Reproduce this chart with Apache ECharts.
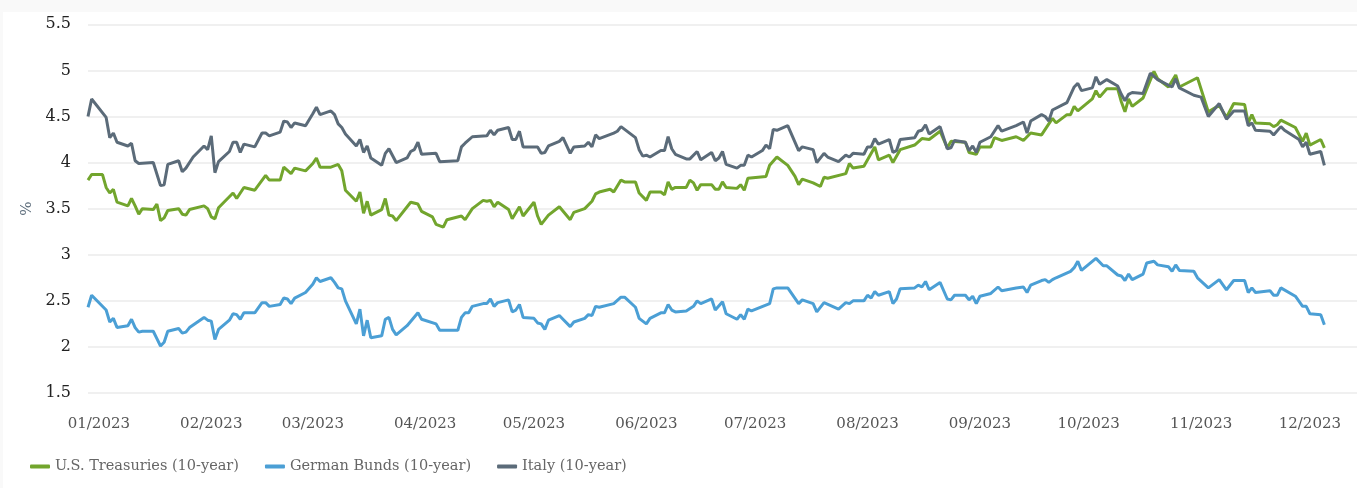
<!DOCTYPE html>
<html>
<head>
<meta charset="utf-8">
<script src="https://cdn.jsdelivr.net/npm/echarts@6/dist/echarts.min.js"></script>
<style>
html,body{margin:0;padding:0;background:#f9f9f9;}
#chart{position:absolute;left:3px;top:12px;width:1354px;height:476px;background:#fff;}
</style>
</head>
<body>
<div id="chart"></div>
<script>
// ---- Data ----
const seriesNames = ['U.S. Treasuries (10-year)', 'German Bunds (10-year)', 'Italy (10-year)'];
const yTicks = [1.5, 2, 2.5, 3, 3.5, 4, 4.5, 5, 5.5];

const usDates = ['2022-12-29','2022-12-30','2023-01-02','2023-01-03','2023-01-04','2023-01-05','2023-01-06','2023-01-09','2023-01-10','2023-01-11','2023-01-12','2023-01-13','2023-01-16','2023-01-17','2023-01-18','2023-01-19','2023-01-20','2023-01-23','2023-01-24','2023-01-25','2023-01-26','2023-01-30','2023-01-31','2023-02-01','2023-02-02','2023-02-03','2023-02-07','2023-02-08','2023-02-10','2023-02-13','2023-02-16','2023-02-17','2023-02-20','2023-02-21','2023-02-23','2023-02-24','2023-02-27','2023-03-01','2023-03-02','2023-03-03','2023-03-06','2023-03-08','2023-03-09','2023-03-10','2023-03-13','2023-03-14','2023-03-15','2023-03-16','2023-03-17','2023-03-20','2023-03-21','2023-03-22','2023-03-23','2023-03-24','2023-03-28','2023-03-30','2023-03-31','2023-04-03','2023-04-04','2023-04-06','2023-04-07','2023-04-11','2023-04-12','2023-04-14','2023-04-17','2023-04-18','2023-04-19','2023-04-20','2023-04-21','2023-04-24','2023-04-25','2023-04-27','2023-04-28','2023-05-01','2023-05-02','2023-05-03','2023-05-05','2023-05-08','2023-05-11','2023-05-12','2023-05-15','2023-05-17','2023-05-18','2023-05-19','2023-05-22','2023-05-23','2023-05-25','2023-05-26','2023-05-29','2023-05-30','2023-06-01','2023-06-02','2023-06-05','2023-06-06','2023-06-07','2023-06-08','2023-06-09','2023-06-12','2023-06-13','2023-06-14','2023-06-15','2023-06-16','2023-06-19','2023-06-20','2023-06-21','2023-06-22','2023-06-23','2023-06-26','2023-06-27','2023-06-28','2023-06-29','2023-07-04','2023-07-05','2023-07-07','2023-07-10','2023-07-12','2023-07-13','2023-07-14','2023-07-17','2023-07-19','2023-07-20','2023-07-21','2023-07-26','2023-07-27','2023-07-28','2023-07-31','2023-08-03','2023-08-04','2023-08-07','2023-08-08','2023-08-10','2023-08-14','2023-08-16','2023-08-18','2023-08-21','2023-08-23','2023-08-24','2023-08-28','2023-08-29','2023-08-31','2023-09-01','2023-09-04','2023-09-05','2023-09-07','2023-09-11','2023-09-13','2023-09-15','2023-09-18','2023-09-21','2023-09-22','2023-09-25','2023-09-26','2023-09-27','2023-09-28','2023-10-02','2023-10-03','2023-10-04','2023-10-06','2023-10-09','2023-10-10','2023-10-11','2023-10-12','2023-10-13','2023-10-16','2023-10-19','2023-10-20','2023-10-23','2023-10-25','2023-10-26','2023-10-31','2023-11-03','2023-11-06','2023-11-08','2023-11-10','2023-11-13','2023-11-14','2023-11-15','2023-11-16','2023-11-20','2023-11-21','2023-11-22','2023-11-23','2023-11-27','2023-11-29','2023-11-30','2023-12-01','2023-12-04','2023-12-05'];
const usValues = [3.81,3.87,3.87,3.73,3.67,3.71,3.57,3.53,3.61,3.53,3.44,3.50,3.49,3.55,3.37,3.40,3.48,3.50,3.44,3.43,3.49,3.53,3.50,3.41,3.39,3.51,3.67,3.61,3.73,3.70,3.86,3.81,3.81,3.95,3.88,3.94,3.91,3.99,4.05,3.95,3.95,3.98,3.91,3.70,3.58,3.68,3.45,3.58,3.43,3.49,3.61,3.43,3.42,3.37,3.57,3.55,3.47,3.41,3.33,3.30,3.38,3.42,3.38,3.50,3.59,3.58,3.59,3.52,3.57,3.49,3.39,3.52,3.42,3.57,3.42,3.33,3.43,3.52,3.38,3.46,3.50,3.58,3.66,3.68,3.71,3.68,3.81,3.79,3.79,3.67,3.59,3.68,3.68,3.65,3.79,3.71,3.73,3.73,3.81,3.78,3.70,3.76,3.76,3.71,3.71,3.79,3.73,3.72,3.76,3.70,3.83,3.85,3.97,4.06,3.97,3.85,3.76,3.82,3.78,3.74,3.84,3.83,3.88,3.99,3.94,3.96,4.17,4.03,4.08,4.00,4.14,4.19,4.26,4.25,4.34,4.16,4.23,4.22,4.11,4.09,4.17,4.17,4.27,4.24,4.28,4.24,4.32,4.30,4.48,4.43,4.52,4.52,4.61,4.56,4.69,4.78,4.71,4.80,4.80,4.66,4.55,4.69,4.61,4.70,4.99,4.91,4.82,4.95,4.82,4.92,4.55,4.62,4.49,4.64,4.63,4.43,4.52,4.43,4.42,4.39,4.41,4.46,4.38,4.23,4.32,4.19,4.25,4.16];

const deDates = ['2022-12-29','2022-12-30','2023-01-03','2023-01-04','2023-01-05','2023-01-06','2023-01-09','2023-01-10','2023-01-11','2023-01-12','2023-01-13','2023-01-16','2023-01-17','2023-01-18','2023-01-19','2023-01-20','2023-01-23','2023-01-24','2023-01-25','2023-01-26','2023-01-30','2023-01-31','2023-02-01','2023-02-02','2023-02-03','2023-02-06','2023-02-07','2023-02-08','2023-02-09','2023-02-10','2023-02-13','2023-02-15','2023-02-16','2023-02-17','2023-02-20','2023-02-21','2023-02-22','2023-02-23','2023-02-24','2023-02-27','2023-03-01','2023-03-02','2023-03-03','2023-03-06','2023-03-07','2023-03-08','2023-03-09','2023-03-10','2023-03-13','2023-03-14','2023-03-15','2023-03-16','2023-03-17','2023-03-20','2023-03-21','2023-03-22','2023-03-23','2023-03-24','2023-03-27','2023-03-30','2023-03-31','2023-04-04','2023-04-05','2023-04-10','2023-04-11','2023-04-12','2023-04-13','2023-04-14','2023-04-17','2023-04-18','2023-04-19','2023-04-20','2023-04-21','2023-04-24','2023-04-25','2023-04-26','2023-04-27','2023-04-28','2023-05-01','2023-05-02','2023-05-03','2023-05-04','2023-05-05','2023-05-08','2023-05-09','2023-05-11','2023-05-12','2023-05-15','2023-05-16','2023-05-17','2023-05-18','2023-05-19','2023-05-23','2023-05-25','2023-05-26','2023-05-29','2023-05-30','2023-06-01','2023-06-02','2023-06-05','2023-06-06','2023-06-07','2023-06-08','2023-06-09','2023-06-12','2023-06-14','2023-06-15','2023-06-16','2023-06-19','2023-06-20','2023-06-22','2023-06-23','2023-06-26','2023-06-27','2023-06-28','2023-06-29','2023-06-30','2023-07-05','2023-07-06','2023-07-07','2023-07-10','2023-07-13','2023-07-14','2023-07-17','2023-07-18','2023-07-20','2023-07-24','2023-07-26','2023-07-27','2023-07-28','2023-07-31','2023-08-01','2023-08-02','2023-08-03','2023-08-04','2023-08-07','2023-08-08','2023-08-09','2023-08-10','2023-08-14','2023-08-15','2023-08-16','2023-08-17','2023-08-18','2023-08-21','2023-08-23','2023-08-24','2023-08-25','2023-08-28','2023-08-29','2023-08-30','2023-08-31','2023-09-01','2023-09-04','2023-09-06','2023-09-07','2023-09-11','2023-09-13','2023-09-14','2023-09-15','2023-09-18','2023-09-19','2023-09-20','2023-09-21','2023-09-22','2023-09-26','2023-09-27','2023-09-28','2023-09-29','2023-10-03','2023-10-05','2023-10-06','2023-10-09','2023-10-10','2023-10-11','2023-10-12','2023-10-13','2023-10-16','2023-10-17','2023-10-19','2023-10-20','2023-10-23','2023-10-24','2023-10-25','2023-10-26','2023-10-30','2023-10-31','2023-11-03','2023-11-06','2023-11-08','2023-11-10','2023-11-13','2023-11-14','2023-11-15','2023-11-16','2023-11-20','2023-11-21','2023-11-22','2023-11-23','2023-11-27','2023-11-29','2023-11-30','2023-12-01','2023-12-04','2023-12-05'];
const deValues = [2.43,2.56,2.40,2.27,2.31,2.21,2.23,2.30,2.21,2.16,2.17,2.17,2.09,2.01,2.05,2.17,2.20,2.15,2.16,2.21,2.32,2.29,2.28,2.08,2.19,2.29,2.36,2.35,2.30,2.37,2.37,2.48,2.48,2.44,2.46,2.53,2.52,2.47,2.53,2.59,2.68,2.75,2.71,2.75,2.70,2.64,2.63,2.50,2.25,2.41,2.12,2.29,2.10,2.12,2.30,2.32,2.19,2.13,2.23,2.37,2.30,2.25,2.18,2.18,2.32,2.37,2.37,2.44,2.47,2.47,2.52,2.44,2.48,2.51,2.38,2.40,2.46,2.32,2.31,2.26,2.25,2.19,2.29,2.34,2.30,2.22,2.27,2.31,2.35,2.34,2.44,2.43,2.47,2.54,2.54,2.43,2.31,2.25,2.31,2.37,2.37,2.46,2.40,2.38,2.39,2.44,2.50,2.47,2.52,2.40,2.49,2.36,2.30,2.35,2.30,2.41,2.39,2.47,2.63,2.64,2.64,2.47,2.51,2.47,2.38,2.48,2.41,2.48,2.47,2.50,2.50,2.56,2.53,2.60,2.56,2.60,2.47,2.52,2.63,2.64,2.67,2.65,2.71,2.62,2.70,2.52,2.51,2.56,2.56,2.51,2.55,2.47,2.55,2.58,2.65,2.61,2.64,2.65,2.59,2.67,2.72,2.73,2.70,2.73,2.75,2.82,2.86,2.93,2.83,2.96,2.88,2.88,2.78,2.77,2.72,2.79,2.73,2.79,2.91,2.93,2.89,2.87,2.82,2.89,2.83,2.82,2.75,2.64,2.73,2.62,2.72,2.72,2.59,2.64,2.59,2.61,2.56,2.56,2.64,2.55,2.44,2.44,2.36,2.35,2.24];

const itDates = ['2022-12-29','2022-12-30','2023-01-03','2023-01-04','2023-01-05','2023-01-06','2023-01-09','2023-01-10','2023-01-11','2023-01-12','2023-01-16','2023-01-18','2023-01-19','2023-01-20','2023-01-23','2023-01-24','2023-01-25','2023-01-27','2023-01-30','2023-01-31','2023-02-01','2023-02-02','2023-02-03','2023-02-06','2023-02-07','2023-02-08','2023-02-09','2023-02-10','2023-02-13','2023-02-15','2023-02-16','2023-02-17','2023-02-20','2023-02-21','2023-02-22','2023-02-23','2023-02-24','2023-02-27','2023-03-01','2023-03-02','2023-03-03','2023-03-06','2023-03-07','2023-03-08','2023-03-09','2023-03-10','2023-03-13','2023-03-14','2023-03-15','2023-03-16','2023-03-17','2023-03-20','2023-03-21','2023-03-22','2023-03-24','2023-03-27','2023-03-28','2023-03-29','2023-03-30','2023-03-31','2023-04-04','2023-04-05','2023-04-10','2023-04-11','2023-04-12','2023-04-14','2023-04-18','2023-04-19','2023-04-20','2023-04-21','2023-04-24','2023-04-25','2023-04-26','2023-04-27','2023-04-28','2023-05-02','2023-05-03','2023-05-04','2023-05-05','2023-05-08','2023-05-09','2023-05-11','2023-05-12','2023-05-15','2023-05-16','2023-05-17','2023-05-18','2023-05-19','2023-05-23','2023-05-24','2023-05-25','2023-05-26','2023-05-29','2023-05-30','2023-05-31','2023-06-01','2023-06-02','2023-06-05','2023-06-06','2023-06-07','2023-06-08','2023-06-09','2023-06-12','2023-06-13','2023-06-15','2023-06-16','2023-06-19','2023-06-20','2023-06-21','2023-06-22','2023-06-23','2023-06-26','2023-06-27','2023-06-28','2023-06-29','2023-06-30','2023-07-03','2023-07-04','2023-07-05','2023-07-06','2023-07-07','2023-07-10','2023-07-13','2023-07-14','2023-07-17','2023-07-18','2023-07-20','2023-07-21','2023-07-24','2023-07-26','2023-07-27','2023-07-28','2023-07-31','2023-08-01','2023-08-02','2023-08-03','2023-08-04','2023-08-07','2023-08-08','2023-08-09','2023-08-10','2023-08-14','2023-08-15','2023-08-16','2023-08-17','2023-08-18','2023-08-21','2023-08-23','2023-08-24','2023-08-25','2023-08-28','2023-08-29','2023-08-30','2023-08-31','2023-09-01','2023-09-04','2023-09-06','2023-09-07','2023-09-11','2023-09-13','2023-09-14','2023-09-15','2023-09-18','2023-09-19','2023-09-20','2023-09-21','2023-09-25','2023-09-27','2023-09-28','2023-09-29','2023-10-02','2023-10-03','2023-10-04','2023-10-06','2023-10-09','2023-10-10','2023-10-11','2023-10-12','2023-10-13','2023-10-16','2023-10-18','2023-10-20','2023-10-24','2023-10-25','2023-10-26','2023-10-30','2023-11-01','2023-11-03','2023-11-06','2023-11-08','2023-11-10','2023-11-13','2023-11-14','2023-11-15','2023-11-16','2023-11-20','2023-11-21','2023-11-23','2023-11-24','2023-11-28','2023-11-29','2023-11-30','2023-12-01','2023-12-04','2023-12-05'];
const itValues = [4.50,4.69,4.49,4.27,4.32,4.22,4.18,4.21,4.02,3.99,4.00,3.75,3.76,3.98,4.02,3.90,3.94,4.06,4.18,4.14,4.29,3.89,4.01,4.12,4.22,4.22,4.11,4.20,4.17,4.32,4.32,4.29,4.33,4.45,4.44,4.38,4.43,4.40,4.53,4.60,4.52,4.56,4.52,4.42,4.38,4.31,4.18,4.25,4.11,4.18,4.05,3.97,4.10,4.15,4.00,4.05,4.12,4.14,4.22,4.09,4.10,4.01,4.02,4.17,4.21,4.28,4.29,4.35,4.30,4.35,4.38,4.25,4.25,4.34,4.17,4.17,4.10,4.11,4.18,4.23,4.27,4.10,4.17,4.18,4.22,4.17,4.30,4.26,4.32,4.34,4.39,4.36,4.27,4.14,4.07,4.08,4.06,4.13,4.13,4.28,4.15,4.09,4.04,4.04,4.12,4.03,4.11,4.02,4.05,4.12,3.98,3.94,3.97,3.97,4.08,4.06,4.13,4.19,4.15,4.36,4.35,4.40,4.13,4.17,4.14,4.00,4.10,4.06,4.01,4.08,4.06,4.10,4.09,4.17,4.17,4.26,4.20,4.25,4.11,4.13,4.25,4.27,4.34,4.35,4.41,4.31,4.39,4.15,4.16,4.24,4.22,4.13,4.18,4.11,4.22,4.28,4.40,4.34,4.40,4.44,4.32,4.45,4.52,4.50,4.45,4.57,4.65,4.82,4.86,4.78,4.81,4.93,4.85,4.90,4.83,4.74,4.67,4.74,4.76,4.75,4.97,4.90,4.82,4.91,4.81,4.73,4.71,4.50,4.64,4.47,4.56,4.56,4.40,4.43,4.35,4.34,4.30,4.39,4.35,4.25,4.17,4.22,4.09,4.12,3.97];

const colors = ['#72a52d', '#4b9fd5', '#5b6b79'];

// ---- Chart ----
function zip(d, v) { return d.map((x, i) => [x, v[i]]); }
const chart = echarts.init(document.getElementById('chart'), null, { renderer: 'canvas' });
const serifFont = '"DejaVu Serif", serif';

chart.setOption({
  animation: false,
  color: colors,
  grid: { left: 85, right: 0, top: 12.3, bottom: 95, containLabel: false },
  legend: {
    left: 22, top: 442,
    icon: 'roundRect', itemWidth: 20, itemHeight: 4, itemGap: 26,
    textStyle: { fontFamily: serifFont, fontSize: 14.5, color: '#666' },
    data: seriesNames
  },
  xAxis: {
    type: 'time',
    min: '2022-12-29',
    max: '2023-12-14',
    splitNumber: 12,
    minInterval: 28 * 86400000,
    maxInterval: 31 * 86400000,
    axisLine: { show: false },
    axisTick: { show: false },
    splitLine: { show: false },
    axisLabel: {
      margin: 24,
      fontFamily: serifFont, fontSize: 15, color: '#555',
      hideOverlap: false,
      formatter: function (val) {
        const d = new Date(val);
        if (d.getDate() !== 1) return '';
        const m = d.getMonth() + 1;
        return (m < 10 ? '0' + m : '' + m) + '/' + d.getFullYear();
      }
    }
  },
  yAxis: {
    type: 'value',
    min: yTicks[0], max: yTicks[yTicks.length - 1], interval: 0.5,
    name: '%', nameLocation: 'middle', nameRotate: 90, nameGap: 51,
    nameTextStyle: { fontFamily: serifFont, fontSize: 15, color: '#5b6b7a' },
    axisLine: { show: false },
    axisTick: { show: false },
    splitLine: { lineStyle: { color: '#ebebeb', width: 1.5 } },
    axisLabel: {
      margin: 17,
      padding: [5, 0, 0, 0],
      fontFamily: serifFont, fontSize: 16, color: '#222',
      formatter: function (v) { return String(v); }
    }
  },
  series: [
    { name: seriesNames[0], type: 'line', showSymbol: false, symbol: 'none', lineStyle: { width: 3 }, data: zip(usDates, usValues), z: 3 },
    { name: seriesNames[1], type: 'line', showSymbol: false, symbol: 'none', lineStyle: { width: 3 }, data: zip(deDates, deValues), z: 2 },
    { name: seriesNames[2], type: 'line', showSymbol: false, symbol: 'none', lineStyle: { width: 3 }, data: zip(itDates, itValues), z: 4 }
  ]
});
</script>
</body>
</html>
